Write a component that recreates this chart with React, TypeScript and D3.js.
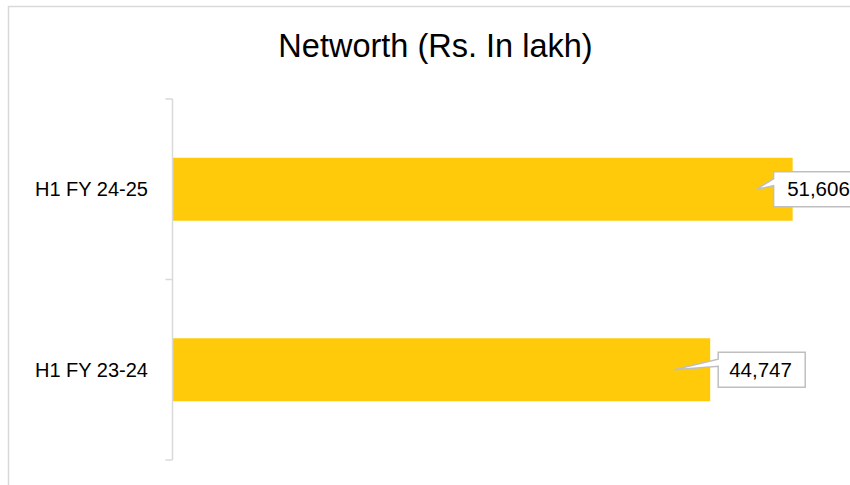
import React from "react";
import * as d3 from "d3";

const categories = ["H1 FY 24-25", "H1 FY 23-24"];
const networth = [51606, 44747];
const xMax = 60000;
const title = "Networth (Rs. In lakh)";

// layout (not data)
const W = 850;
const H = 485;
const plotLeft = 172.5;
const plotRight = 893.5;
const plotTop = 99;
const plotBottom = 460;
const calloutDx = [-19, 8];
const calloutTipDx = -36;
const calloutTextPad = [13.5, 11];

const FONT = "'Liberation Sans', Arial, sans-serif";

export default function App() {
  const x = d3.scaleLinear().domain([0, xMax]).range([plotLeft, plotRight]);
  const y = d3
    .scaleBand<string>()
    .domain(categories)
    .range([plotTop, plotBottom])
    .paddingInner(0.651)
    .paddingOuter(0.3255);
  const fmt = d3.format(",");
  const step = y.step();
  const ticks = [plotTop, ...categories.map((c) => (y(c) as number) - y.paddingOuter() * step + step)];

  return (
    <svg
      width={W}
      height={H}
      style={{ position: "fixed", left: 0, top: 0, background: "#fff" }}
      fontFamily={FONT}
    >
      <rect x={8.5} y={6.5} width={880} height={500} fill="#fff" stroke="#D9D9D9" strokeWidth={1.5} />
      <text x={435.5} y={57} textAnchor="middle" fontSize={32.5} fill="#000">
        {title}
      </text>
      {categories.map((c, i) => {
        const by = y(c) as number;
        const bw = y.bandwidth();
        return (
          <g key={c}>
            <rect x={x(0)} y={by} width={x(networth[i]) - x(0)} height={bw} fill="#FFCA0A" />
            <text x={148} y={by + bw / 2 + 7} textAnchor="end" fontSize={20} fill="#000">
              {c}
            </text>
          </g>
        );
      })}
      {/* axis */}
      <line x1={plotLeft} x2={plotLeft} y1={plotTop} y2={plotBottom} stroke="#D9D9D9" strokeWidth={1.5} />
      {ticks.map((t, i) => (
        <line key={i} x1={plotLeft - 7} x2={plotLeft} y1={t} y2={t} stroke="#D9D9D9" strokeWidth={1.5} />
      ))}
      {/* callouts */}
      {categories.map((c, i) => {
        const cy = (y(c) as number) + y.bandwidth() / 2;
        const end = x(networth[i]);
        const bx = end + calloutDx[i];
        const bwid = 87;
        const bh = 35;
        const by = cy - bh / 2;
        const tipX = end + calloutTipDx;
        const path = [
          `M${bx},${by}`,
          `L${bx + bwid},${by}`,
          `L${bx + bwid},${by + bh}`,
          `L${bx},${by + bh}`,
          `L${bx},${by + 14}`,
          `L${tipX},${cy}`,
          `L${bx},${by + 7}`,
          "Z",
        ].join(" ");
        return (
          <g key={c + "-lbl"}>
            <path d={path} fill="#fff" stroke="#BFBFBF" strokeWidth={1.5} />
            <text x={bx + calloutTextPad[i]} y={cy + 7} fontSize={20.5} fill="#000">
              {fmt(networth[i])}
            </text>
          </g>
        );
      })}
    </svg>
  );
}
